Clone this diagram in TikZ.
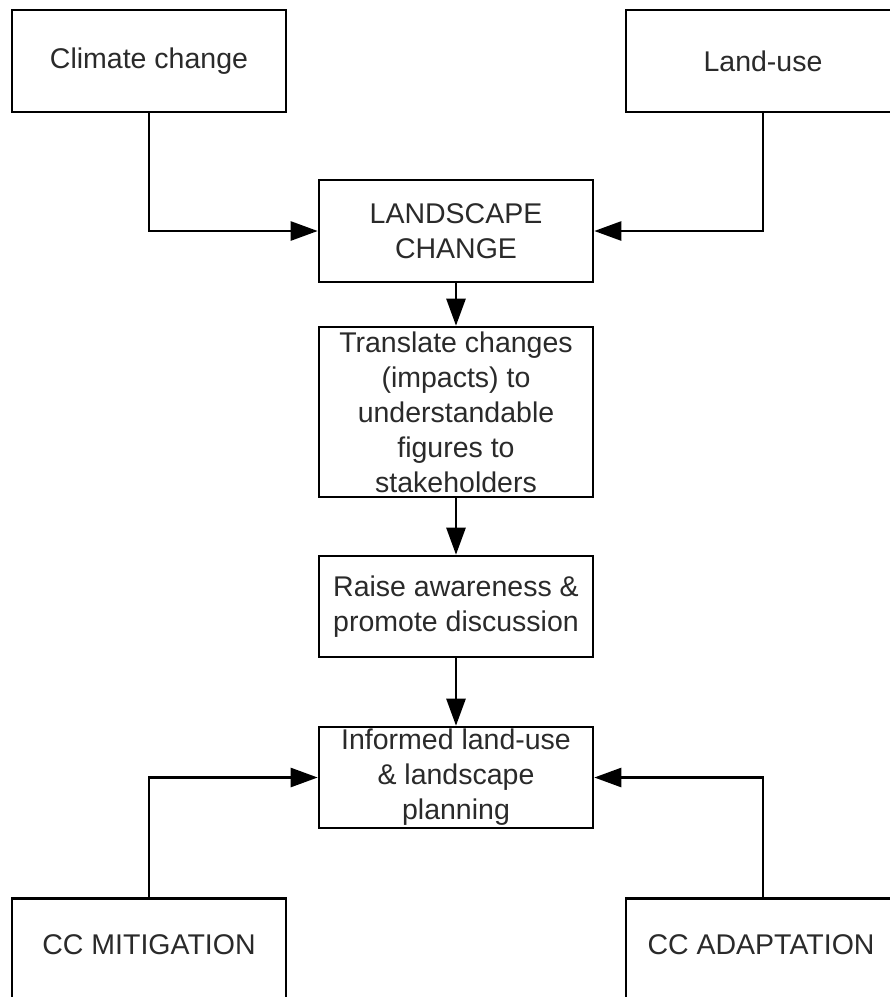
\documentclass[tikz,border=0pt]{standalone}
\usepackage{fontspec}
\setmainfont{Liberation Sans}
\usetikzlibrary{arrows.meta}
\definecolor{inkgray}{HTML}{2A2A2A}
\begin{document}
\begin{tikzpicture}[x=1pt,y=-1pt,
  box/.style={draw=black, line width=2.6pt, rectangle, inner sep=0pt,
    minimum width=274pt, align=center, text=inkgray,
    font=\fontsize{28.5}{35}\selectfont},
  lbl/.style={text=inkgray, inner sep=0pt, align=center,
    font=\fontsize{28.5}{35}\selectfont},
  arr/.style={draw=black, line width=2.6pt,
    -{Triangle[length=27pt,width=19pt]}}]
\useasboundingbox (0,0) rectangle (890,997);
\fill[white] (0,0) rectangle (890,997);

% driver boxes at the top
\node[box, minimum height=102pt] (clim) at (149,61) {Climate change};
\node[box, minimum height=102pt] (luse) at (763,61) {Land-use};

% central chain
\node[box, minimum height=102pt] (land) at (456,231) {LANDSCAPE\\CHANGE};
\node[box, minimum height=170pt] (trans) at (456,412)
  {Translate changes\\(impacts) to\\understandable\\figures to\\stakeholders};
\node[box, minimum height=101pt] (raise) at (456,606.5)
  {Raise awareness \&\\promote discussion};
\node[box, minimum height=101pt] (inf) at (456,777.5)
  {Informed land-use\\\& landscape\\planning};

% response boxes at the bottom (running past the lower edge)
\node[box, minimum height=120pt, anchor=north] (mitbox) at (149,897) {};
\node[lbl] (mit) at (149,945) {CC MITIGATION};
\node[box, minimum height=120pt, anchor=north] (adabox) at (763,897) {};
\node[lbl] (ada) at (761,945) {CC ADAPTATION};

% connectors
\draw[arr] (clim.south) |- (land.west);
\draw[arr] (luse.south) |- (land.east);
\draw[arr] (land.south) -- (trans.north);
\draw[arr] (trans.south) -- (raise.north);
\draw[arr] (raise.south) -- (inf.north);
\draw[arr] (mitbox.north) |- (inf.west);
\draw[arr] (adabox.north) |- (inf.east);
\end{tikzpicture}
\end{document}
